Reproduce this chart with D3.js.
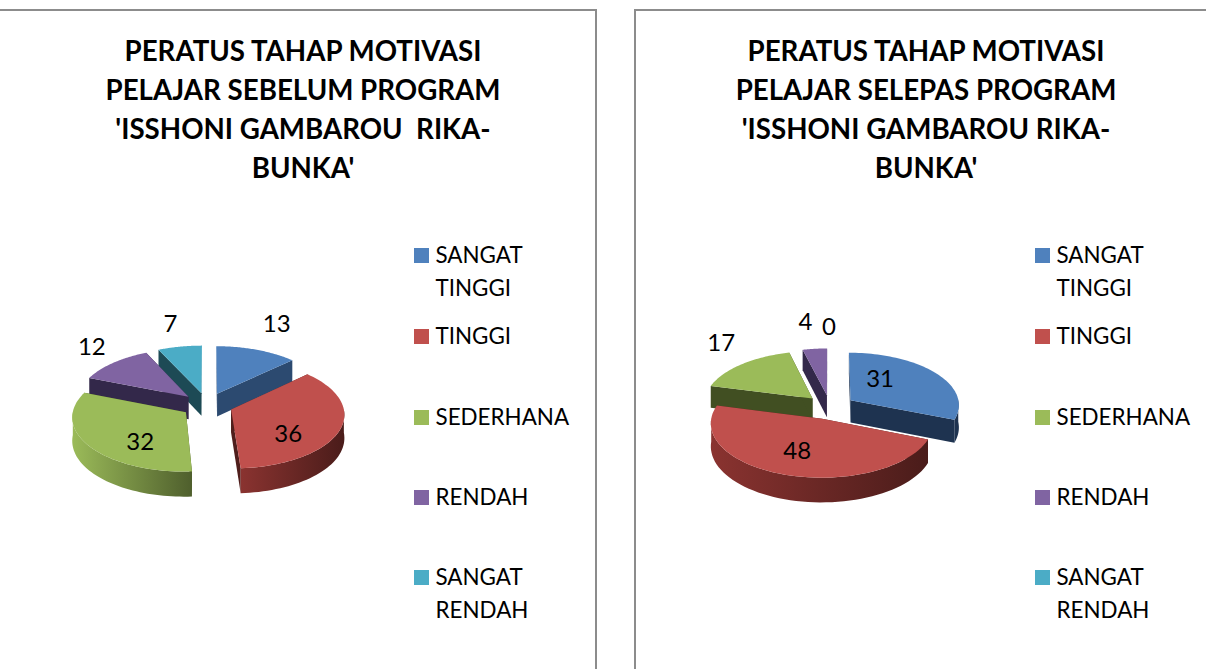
<!DOCTYPE html>
<html>
<head>
<meta charset="utf-8">
<script src="https://cdn.jsdelivr.net/npm/d3@7"></script>
<style>
    html, body { margin: 0; padding: 0; background: #fff; }
    svg { display: block; }
</style>
</head>
<body>
<svg id="drawing_region" width="1206" height="669"></svg>
<script>
// Data
const categories = ["SANGAT TINGGI", "TINGGI", "SEDERHANA", "RENDAH", "SANGAT RENDAH"];
const valuesBefore = [13, 36, 32, 12, 7];
const valuesAfter = [31, 48, 17, 4, 0];
const titleBefore = ["PERATUS TAHAP MOTIVASI", "PELAJAR SEBELUM PROGRAM", "'ISSHONI GAMBAROU  RIKA-", "BUNKA'"];
const titleAfter = ["PERATUS TAHAP MOTIVASI", "PELAJAR SELEPAS PROGRAM", "'ISSHONI GAMBAROU RIKA-", "BUNKA'"];

const colors = ["#4f81bd", "#c0504d", "#9bbb59", "#8064a2", "#4bacc6"];
const fontFamily = "Lato, 'Open Sans', sans-serif";

const svg = d3.select("#drawing_region");
const defs = svg.append("defs");

// wall gradient: lighter on the left, dark on the right
const wallStart = ["#1e3350", "#8a3330", "#9bbb59", "#4d3c63", "#2d6f80"];
const wallEnd = ["#1e3350", "#4a1c1a", "#4f5f2d", "#2c2340", "#1d4a55"];
colors.forEach((c, i) => {
    const g = defs.append("linearGradient").attr("id", `wall${i}`);
    g.append("stop").attr("offset", "0%").attr("stop-color", wallStart[i]);
    g.append("stop").attr("offset", "100%").attr("stop-color", wallEnd[i]);
});

class Pie3D {

    constructor(config, values, title) {
        this.config = config;
        this.values = values;
        this.title = title;
        this.g = svg.append("g");
        // unit disk -> screen
        this.xScale = d3.scaleLinear().domain([-1, 1]).range([-config.radius, config.radius]);
        this.yScale = d3.scaleLinear().domain([-1, 1]).range([-config.radius * config.squash, config.radius * config.squash]);
        this.render();
    }

    project(ux, uy, down) {
        const c = this.config;
        const s = 1 + c.perspective * uy;
        return [c.cx + this.xScale(ux) * s, c.cy + this.yScale(uy) * s + (down ? c.depth * s : 0)];
    }

    render() {
        this.frame();
        this.drawTitle();
        this.drawSlices();
        this.drawLabels();
        this.drawLegend();
    }

    frame() {
        const c = this.config;
        this.g.append("path")
            .attr("d", d3.line()(c.frame))
            .attr("fill", "none")
            .attr("stroke", "#8c8c8c")
            .attr("stroke-width", 2);
    }

    drawTitle() {
        const c = this.config;
        this.g.append("g").selectAll("text")
            .data(this.title)
            .enter()
            .append("text")
            .attr("x", c.titleX)
            .attr("y", (d, i) => 61 + i * 39)
            .attr("text-anchor", "middle")
            .attr("xml:space", "preserve")
            .attr("font-family", fontFamily)
            .attr("font-weight", "bold")
            .attr("font-size", "27.7px")
            .attr("fill", "#000")
            .text(d => d);
    }

    drawSlices() {
        const c = this.config;
        const self = this;
        const arcs = d3.pie().sort(null).value(d => d)(this.values)
            .map((d, i) => ({...d, i: i, mid: (d.startAngle + d.endAngle) / 2}))
            .filter(d => d.value > 0);

        // back slices first
        arcs.sort((a, b) => -Math.cos(a.mid) - -Math.cos(b.mid));

        const line = d3.line();
        arcs.forEach(d => {
            const ex = c.explode * Math.sin(d.mid);
            const ey = -c.explode * Math.cos(d.mid);
            const rim = (a, down) => self.project(ex + Math.sin(a), ey - Math.cos(a), down);
            const apex = down => self.project(ex, ey, down);
            const steps = d3.range(0, 61).map(k => d.startAngle + (d.endAngle - d.startAngle) * k / 60);

            const slice = self.g.append("g").attr("class", "slice");

            // straight cut faces
            [d.startAngle, d.endAngle].forEach(a => {
                slice.append("path")
                    .attr("d", line([apex(false), rim(a, false), rim(a, true), apex(true)]) + "Z")
                    .attr("fill", c.faceColors[d.i]);
            });

            // outer wall, only the part that faces the viewer
            const front = steps.filter(a => Math.cos(a) < 0.02);
            if (front.length > 1) {
                const top = front.map(a => rim(a, false));
                const bottom = front.map(a => rim(a, true)).reverse();
                slice.append("path")
                    .attr("d", line(top.concat(bottom)) + "Z")
                    .attr("fill", `url(#wall${d.i})`);
            }

            // top face
            slice.append("path")
                .attr("d", line([apex(false)].concat(steps.map(a => rim(a, false)))) + "Z")
                .attr("fill", colors[d.i]);
        });
    }

    drawLabels() {
        const c = this.config;
        const self = this;
        const arcs = d3.pie().sort(null).value(d => d)(this.values);
        this.g.append("g").selectAll("text")
            .data(arcs)
            .enter()
            .append("text")
            .attr("transform", function(d, i) {
                const mid = (d.startAngle + d.endAngle) / 2;
                const p = self.project(Math.sin(mid), -Math.cos(mid), false);
                return `translate(${p[0] + c.labelNudge[i][0]}, ${p[1] + c.labelNudge[i][1]})`;
            })
            .attr("dy", "0.35em")
            .attr("text-anchor", "middle")
            .attr("font-family", fontFamily)
            .attr("font-size", "24px")
            .attr("fill", "#000")
            .text(d => d.value);
    }

    drawLegend() {
        const c = this.config;
        // each entry: first baseline of the block, wrapped lines
        const legendLines = [["SANGAT", "TINGGI"], ["TINGGI"], ["SEDERHANA"], ["RENDAH"], ["SANGAT", "RENDAH"]];
        const legendTop = [255, 336, 417, 497, 577];
        const row = this.g.append("g").selectAll("g")
            .data(categories)
            .enter()
            .append("g")
            .attr("transform", (d, i) => `translate(${c.legendX}, ${legendTop[i]})`);
        row.append("rect")
            .attr("x", 0)
            .attr("y", -7)
            .attr("width", 15)
            .attr("height", 15)
            .attr("fill", (d, i) => colors[i]);
        row.selectAll("text")
            .data((d, i) => legendLines[i])
            .enter()
            .append("text")
            .attr("x", 21.5)
            .attr("y", (d, i) => i * 33)
            .attr("dy", "0.35em")
            .attr("font-family", fontFamily)
            .attr("font-size", "22.4px")
            .attr("fill", "#000")
            .text(d => d);
    }
}

new Pie3D({
    cx: 207, cy: 405, radius: 112, squash: 0.48, perspective: 0.08, depth: 23, explode: 0.23,
    titleX: 303, legendX: 414,
    frame: [[0, 10], [596, 10], [596, 669]],
    faceColors: ["#2c4a70", "#4f1e1c", "#414f22", "#33284a", "#1d4a55"],
    labelNudge: [[28.5, -36], [-26, 8], [28, 4], [-38, -24], [-14, -33]]
}, valuesBefore, titleBefore);

new Pie3D({
    cx: 830, cy: 407, radius: 109, squash: 0.485, perspective: 0.08, depth: 22.5, explode: 0.23,
    titleX: 926, legendX: 1035,
    frame: [[635, 669], [635, 10], [1206, 10]],
    faceColors: ["#1e3350", "#4f1e1c", "#414f22", "#33284a", "#1d4a55"],
    labelNudge: [[-36, 0], [3.5, -11], [-36, -29], [-12, -37], [-1, -32]]
}, valuesAfter, titleAfter);
</script>
</body>
</html>
